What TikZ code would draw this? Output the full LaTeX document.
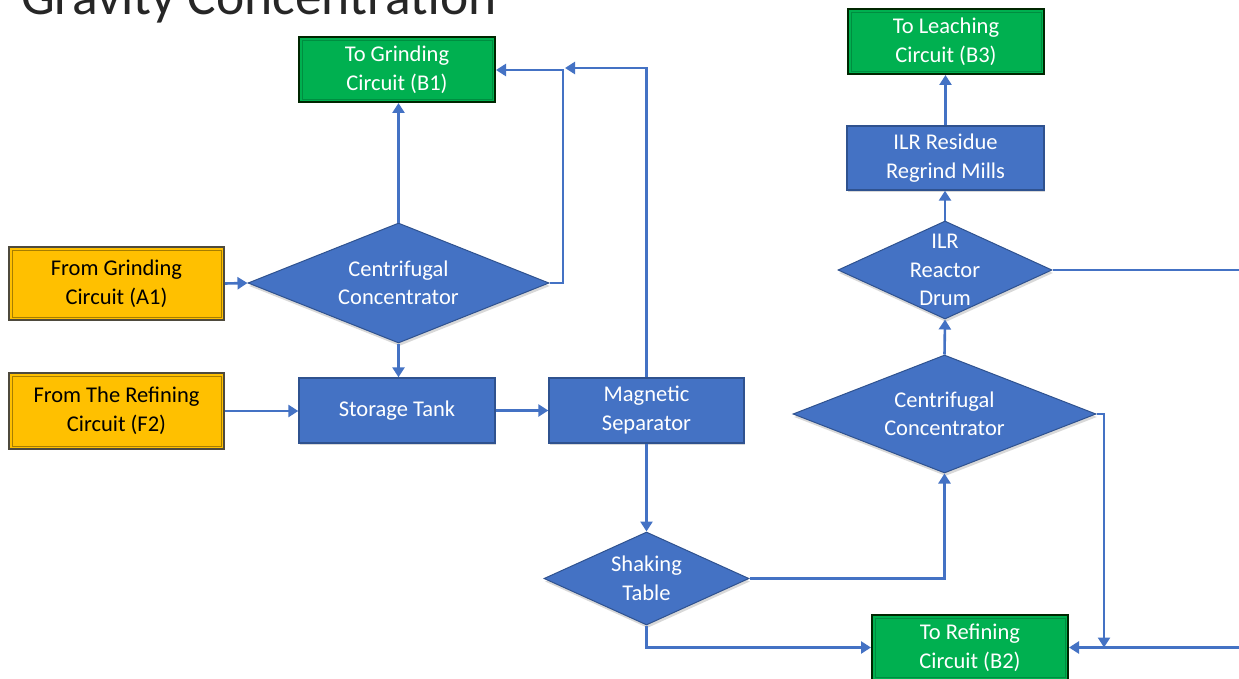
\documentclass[tikz,border=0pt]{standalone}
\usepackage{fontspec}
\setmainfont{Carlito}
\usetikzlibrary{shapes.geometric,arrows.meta,shadows}

\definecolor{flowblue}{HTML}{4472C4}
\definecolor{flowblueedge}{HTML}{2F528F}
\definecolor{flowgreen}{HTML}{00B050}
\definecolor{flowyellow}{HTML}{FFC000}
\definecolor{titlegray}{HTML}{262626}

\tikzset{
  boxbase/.style={rectangle, inner sep=0pt, align=center,
    font=\fontsize{22.5}{29}\selectfont},
  procbox/.style={boxbase, fill=flowblue, draw=flowblueedge, line width=1.4pt,
    text=white, drop shadow={opacity=0.3, shadow xshift=1pt, shadow yshift=-2pt}},
  outbox/.style={boxbase, fill=flowgreen, draw=black!85!green, line width=2pt,
    text=white},
  inbox/.style={boxbase, fill=flowyellow, draw=black!80!yellow, line width=2pt,
    text=black},
  decision/.style={diamond, inner sep=0pt, fill=flowblue, draw=flowblueedge,
    line width=1pt, drop shadow={opacity=0.3, shadow xshift=1pt, shadow yshift=-3pt}},
  dtext/.style={align=center, text=white, inner sep=0pt,
    font=\fontsize{22.5}{28.5}\selectfont},
  flow/.style={draw=flowblue, line width=2.6pt, line join=miter,
    -{Triangle[length=10pt,width=12pt]}},
}

% thin inner frame that gives the boxes their bevelled look
\newcommand\bevelbox[2]{%
  \draw[#2, line width=0.8pt]
    ([shift={(4,4)}]#1.north west) rectangle ([shift={(-4,-4)}]#1.south east);}

\begin{document}
\begin{tikzpicture}[x=1pt, y=-1pt]
\useasboundingbox (0,0) rectangle (1239,679);
\clip (0,0) rectangle (1239,679);
\fill[white] (0,0) rectangle (1239,679);

% heading
\node[anchor=base west, inner sep=0pt, text=titlegray,
  font=\fontsize{53.5}{60}\selectfont] (title) at (21,15) {Gravity Concentration};

% feeds
\node[inbox, minimum width=215pt, minimum height=73pt] (a1) at (116.5,283.5)
  {From Grinding\\Circuit (A1)};
\node[inbox, minimum width=215pt, minimum height=76pt] (f2) at (116.5,411)
  {From The Refining\\Circuit (F2)};
\bevelbox{a1}{black!35!flowyellow}
\bevelbox{f2}{black!35!flowyellow}

% destinations
\node[outbox, minimum width=196pt, minimum height=65pt] (b1) at (397,69.5)
  {To Grinding\\Circuit (B1)};
\node[outbox, minimum width=196pt, minimum height=65pt] (b2) at (970,647.5)
  {To Refining\\Circuit (B2)};
\node[outbox, minimum width=196pt, minimum height=65pt] (b3) at (946,41.5)
  {To Leaching\\Circuit (B3)};
\bevelbox{b1}{black!20!flowgreen}
\bevelbox{b2}{black!20!flowgreen}
\bevelbox{b3}{black!20!flowgreen}

% process units
\node[procbox, minimum width=196pt, minimum height=65pt] (tank) at (397,410.5)
  {Storage Tank};
\node[procbox, minimum width=195pt, minimum height=65pt] (mag) at (646.5,410.5)
  {Magnetic\\Separator};
\node[procbox, minimum width=197pt, minimum height=64pt] (regrind) at (945.5,158)
  {ILR Residue\\Regrind Mills};

% decision-shaped units
\node[decision, minimum width=301pt, minimum height=120pt] (dia1) at (398.5,283) {};
\node[dtext] at (dia1) {Centrifugal\\Concentrator};
\node[decision, minimum width=205pt, minimum height=93pt] (shake) at (646.5,578.5) {};
\node[dtext] at (shake) {Shaking\\Table};
\node[decision, minimum width=303pt, minimum height=118pt] (dia2) at (944.5,414) {};
\node[dtext] at (dia2) {Centrifugal\\Concentrator};
\node[decision, minimum width=214pt, minimum height=98pt] (drum) at (945,270) {};
\node[dtext] at (drum) {ILR\\Reactor\\Drum};

% bend points of the routed lines
\coordinate (j1) at (563,70);
\coordinate (m1) at (646.5,68);
\coordinate (m2) at (565,68);
\coordinate (e1) at (1260,270);
\coordinate (d1) at (1104,414);

% flows
\draw[flow] (a1.east) -- (dia1.west);
\draw[flow] (f2.east) -- (f2.east -| tank.west);
\draw[flow] (dia1.north) -- (dia1.north |- b1.south);
\draw[flow] (dia1.east) -| (j1) -- (b1.east |- j1);
\draw[flow] (dia1.south) -- (dia1.south |- tank.north);
\draw[flow] (tank.east) -- (mag.west);
\draw[flow] (mag.north) -- (m1) -- (m2);
\draw[flow] (mag.south) -- (shake.north);
\draw[flow] (shake.east) -| (dia2.south);
\draw[flow] (shake.south) |- (b2.west);
\draw[flow] (dia2.north) -- (drum.south);
\draw[flow] (drum.north) -- (drum.north |- regrind.south);
\draw[flow] (regrind.north) -- (regrind.north |- b3.south);
\draw[flow] (drum.east) -- (e1) |- (b2.east);
\draw[flow] (dia2.east) -- (d1) -- (d1 |- b2.east);
\end{tikzpicture}
\end{document}
